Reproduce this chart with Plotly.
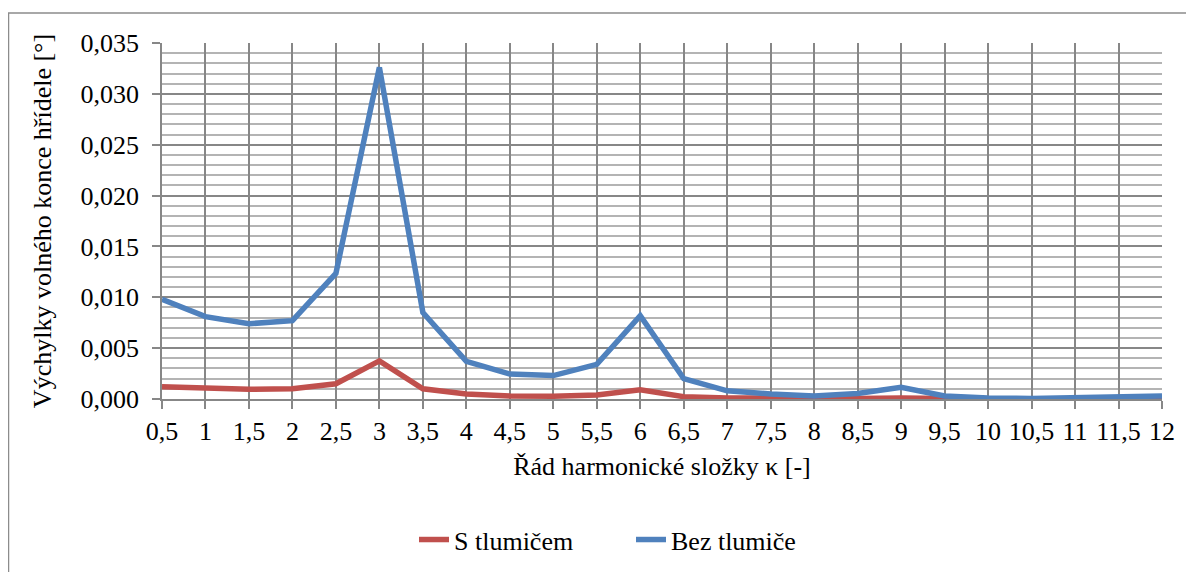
import plotly.graph_objects as go

# harmonic order
rad = [0.5, 1, 1.5, 2, 2.5, 3, 3.5, 4, 4.5, 5, 5.5, 6, 6.5, 7, 7.5, 8,
       8.5, 9, 9.5, 10, 10.5, 11, 11.5, 12]
rad_labels = ["0,5", "1", "1,5", "2", "2,5", "3", "3,5", "4", "4,5", "5", "5,5", "6",
              "6,5", "7", "7,5", "8", "8,5", "9", "9,5", "10", "10,5", "11", "11,5", "12"]

# amplitude of free shaft end [deg]
s_tlumicem = [0.0012, 0.00105, 0.00095, 0.0010, 0.0015, 0.00375, 0.0010, 0.0005,
              0.0003, 0.00027, 0.0004, 0.0009, 0.00023, 0.0001, 0.00005, 0.00005,
              0.00005, 0.0001, 0.00002, 0.00001, 0.00001, 0.00002, 0.00003, 0.00005]
bez_tlumice = [0.0098, 0.0081, 0.0074, 0.0077, 0.01235, 0.0326, 0.0085, 0.0037,
               0.00245, 0.0023, 0.0034, 0.0082, 0.0020, 0.0008, 0.0005, 0.0003,
               0.00055, 0.00115, 0.0003, 0.0001, 0.00005, 0.0001, 0.00015, 0.0003]

serif = "Liberation Serif"
grid = "#878787"

fig = go.Figure()
fig.add_trace(go.Scatter(x=rad, y=s_tlumicem, mode="lines", name="S tlumičem",
                         line=dict(color="#C0504D", width=5.5)))
fig.add_trace(go.Scatter(x=rad, y=bez_tlumice, mode="lines", name="Bez tlumiče",
                         line=dict(color="#4F81BD", width=5.5)))

# page body has an 8px margin, so the figure is 8px smaller than the window
fig.update_layout(
    width=1186, height=564,
    margin=dict(l=154, r=32, t=35, b=173, autoexpand=False),
    paper_bgcolor="white", plot_bgcolor="white",
    font=dict(family=serif, color="black", size=26),
    showlegend=True,
    legend=dict(orientation="h", x=0.252, xanchor="left", y=-0.395, yanchor="middle",
                font=dict(family=serif, size=26, color="black"),
                entrywidth=172, tracegroupgap=0),
    shapes=[dict(type="rect", xref="paper", yref="paper",
                 x0=-0.1535, x1=1.05, y0=-0.7, y1=1.084,
                 line=dict(color="#8c8c8c", width=1.5), fillcolor="rgba(0,0,0,0)",
                 layer="below")],
    separators=", ",
)

fig.update_xaxes(
    range=[0.5, 12], tickvals=rad, ticktext=rad_labels,
    showgrid=True, gridcolor=grid, gridwidth=1.5,
    showline=True, linecolor=grid, linewidth=1.5,
    ticks="outside", ticklen=8, tickcolor=grid, tickwidth=1.5,
    tickfont=dict(family=serif, size=26, color="black"), zeroline=False,
    title=dict(text="Řád harmonické složky κ [-]",
               font=dict(family=serif, size=26, color="black"), standoff=12),
)
fig.update_yaxes(
    range=[0, 0.035], dtick=0.005, tickformat=".3f",
    showgrid=True, gridcolor=grid, gridwidth=1.5,
    showline=True, linecolor=grid, linewidth=1.5,
    ticks="outside", ticklen=8, tickcolor=grid, tickwidth=1.5,
    tickfont=dict(family=serif, size=26, color="black"), zeroline=False,
    ticklabelstandoff=8,
    minor=dict(dtick=0.001, showgrid=True, gridcolor="#b4b4b4", gridwidth=1.5),
    title=dict(text="Výchylky volného konce hřídele [°]",
               font=dict(family=serif, size=26, color="black"), standoff=21),
)

fig.write_html("out.html")
